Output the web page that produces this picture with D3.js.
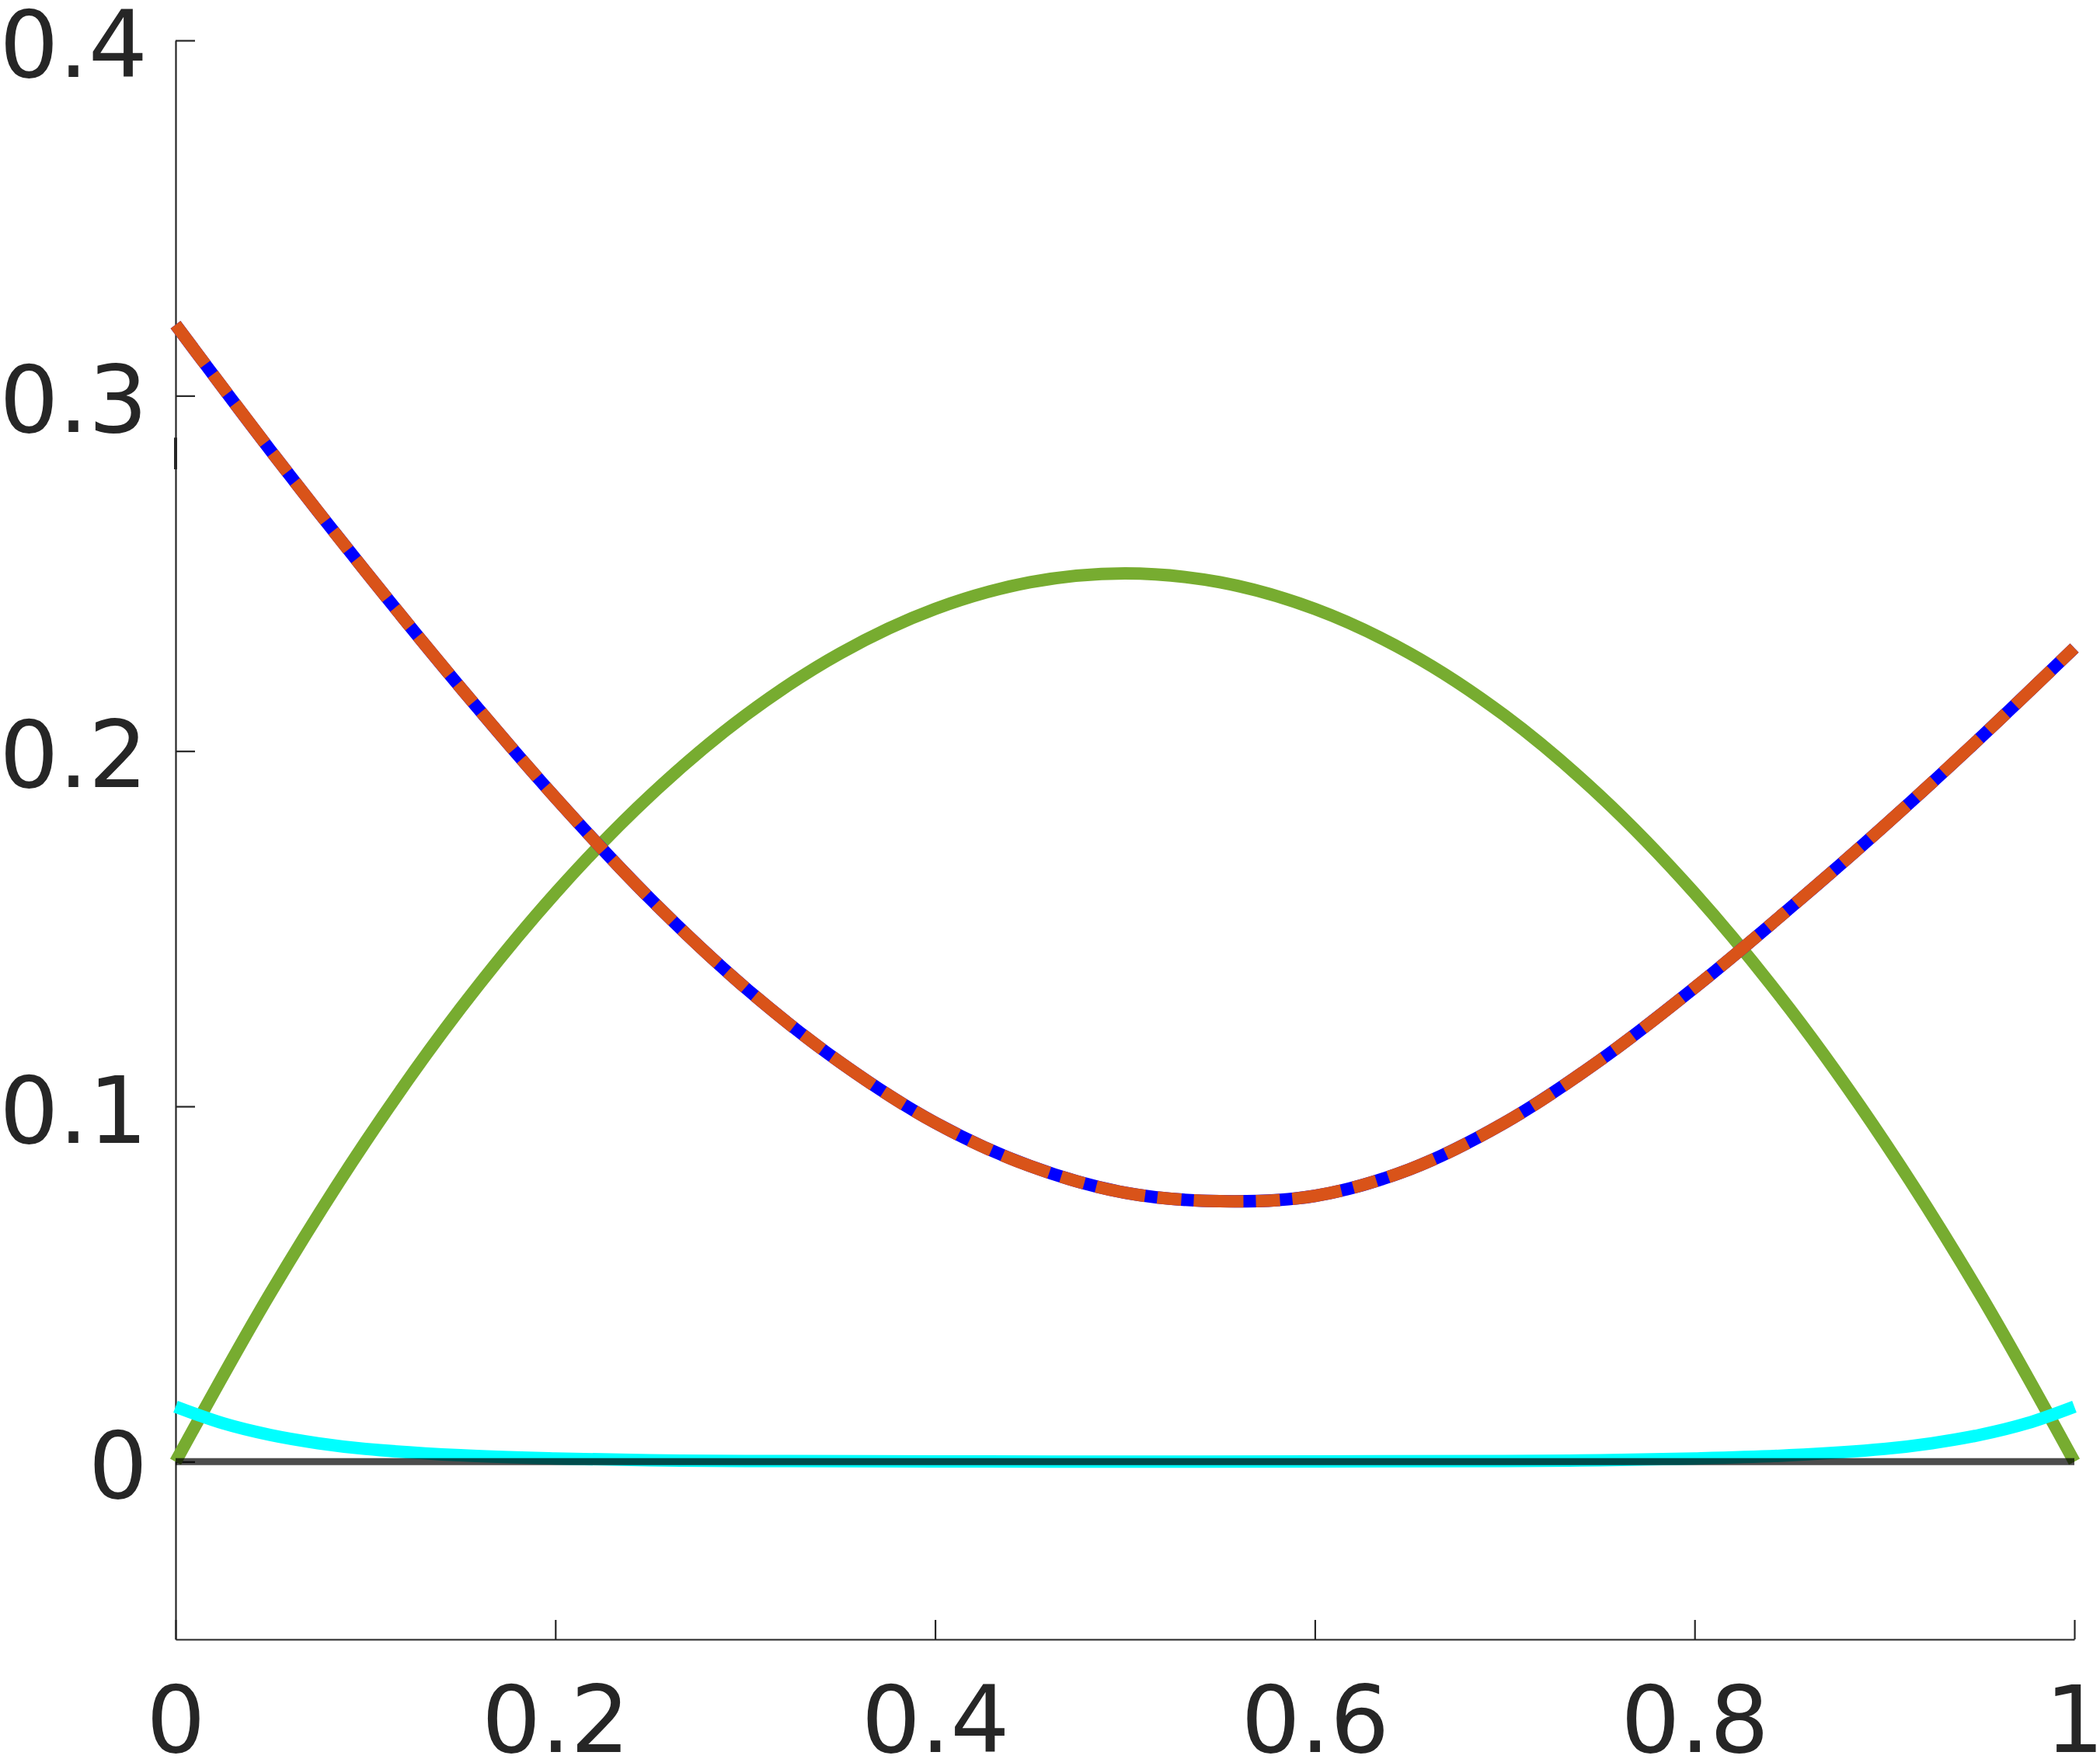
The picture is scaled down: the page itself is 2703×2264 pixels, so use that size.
<!DOCTYPE html>
<html>
<head>
<meta charset="utf-8">
<script src="https://cdn.jsdelivr.net/npm/d3@7"></script>
<style>
  html, body { margin: 0; padding: 0; background: #ffffff; }
  svg { display: block; }
</style>
</head>
<body>
<script>
// ---------- data ----------
const xs = [0, 0.05, 0.1, 0.15, 0.2, 0.25, 0.3, 0.35, 0.4, 0.45, 0.5,
            0.55, 0.6, 0.65, 0.7, 0.75, 0.8, 0.85, 0.9, 0.95, 1];

// green curve
const greenY = [0, 0.0475, 0.09, 0.1275, 0.16, 0.1875, 0.21, 0.2275, 0.24, 0.2475, 0.25,
                0.2475, 0.24, 0.2275, 0.21, 0.1875, 0.16, 0.1275, 0.09, 0.0475, 0];

// blue (solid) and orange (dash-dot) curves, coincident
const blueY = [0.320, 0.2846, 0.2506, 0.2179, 0.1869, 0.1584, 0.1334, 0.1124, 0.0954, 0.0832, 0.0757,
               0.0733, 0.0748, 0.0823, 0.0954, 0.1129, 0.1334, 0.1557, 0.179, 0.2035, 0.229];
const orangeY = [0.320, 0.2846, 0.2506, 0.2179, 0.1869, 0.1584, 0.1334, 0.1124, 0.0954, 0.0832, 0.0757,
                 0.0733, 0.0748, 0.0823, 0.0954, 0.1129, 0.1334, 0.1557, 0.179, 0.2035, 0.229];

// cyan curve (denser near the ends)
const cyanX = [0, 0.025, 0.05, 0.075, 0.1, 0.15, 0.2, 0.25, 0.3, 0.4, 0.5,
               0.6, 0.7, 0.75, 0.8, 0.85, 0.9, 0.925, 0.95, 0.975, 1];
const cyanY = [0.0155, 0.0108, 0.0075, 0.0052, 0.0036, 0.0018, 0.0009, 0.0004, 0.0002, 0.0001, 0.0,
               0.0001, 0.0002, 0.0004, 0.0009, 0.0018, 0.0036, 0.0052, 0.0075, 0.0108, 0.0155];

// zero reference line
const zeroX = [0, 1];
const zeroY = [0, 0];

// short thick mark on the y axis
const axisMarkY = [0.2793, 0.2882];

// ticks
const xTicks = [0, 0.2, 0.4, 0.6, 0.8, 1];
const xTickLabels = ["0", "0.2", "0.4", "0.6", "0.8", "1"];
const yTicks = [0, 0.1, 0.2, 0.3, 0.4];
const yTickLabels = ["0", "0.1", "0.2", "0.3", "0.4"];
const xDomain = [0, 1];
const yDomain = [-0.05, 0.4];

// ---------- drawing ----------
const W = 2703, H = 2264;
const svg = d3.select("body").append("svg").attr("width", W).attr("height", H);

const x = d3.scaleLinear().domain(xDomain).range([226, 2670]);
const y = d3.scaleLinear().domain(yDomain).range([2110, 52]);

const axisColor = "#262626";
const font = "'DejaVu Sans', sans-serif";

// axes
const yAxis = d3.axisLeft(y).tickValues(yTicks)
  .tickFormat((d, i) => yTickLabels[i]).tickSize(-25).tickSizeOuter(0).tickPadding(36);
const xAxis = d3.axisBottom(x).tickValues(xTicks)
  .tickFormat((d, i) => xTickLabels[i]).tickSize(-25).tickSizeOuter(0).tickPadding(60);

const gy = svg.append("g").attr("transform", `translate(${x(0)},0)`).call(yAxis);
const gx = svg.append("g").attr("transform", `translate(0,${y(yDomain[0])})`).call(xAxis);
[gx, gy].forEach(g => {
  g.select(".domain").attr("stroke", axisColor).attr("stroke-width", 2.2);
  g.selectAll(".tick line").attr("stroke", axisColor).attr("stroke-width", 2.2);
  g.selectAll(".tick text").attr("fill", axisColor)
    .style("font-family", font).style("font-size", "120px");
});
gy.selectAll(".tick text").attr("dy", "0.385em");

// small thick mark on the axis
svg.append("line")
  .attr("x1", x(0)).attr("x2", x(0))
  .attr("y1", y(axisMarkY[0])).attr("y2", y(axisMarkY[1]))
  .attr("stroke", axisColor).attr("stroke-width", 4);

function pts(xv, yv) { return xv.map((d, i) => [d, yv[i]]); }
const line = d3.line().x(d => x(d[0])).y(d => y(d[1])).curve(d3.curveCatmullRom.alpha(0.5));

const lw = 16;
svg.append("path").attr("d", line(pts(xs, greenY)))
  .attr("fill", "none").attr("stroke", "#77AC30").attr("stroke-width", lw);

svg.append("path").attr("d", line(pts(xs, blueY)))
  .attr("fill", "none").attr("stroke", "#0000FF").attr("stroke-width", lw);

svg.append("path").attr("d", line(pts(xs, orangeY)))
  .attr("fill", "none").attr("stroke", "#D95319").attr("stroke-width", lw)
  .attr("stroke-dasharray", "64,16,31,16");

svg.append("path").attr("d", line(pts(cyanX, cyanY)))
  .attr("fill", "none").attr("stroke", "#00FFFF").attr("stroke-width", lw);

svg.append("path").attr("d", d3.line().x(d => x(d[0])).y(d => y(d[1]))(pts(zeroX, zeroY)))
  .attr("fill", "none").attr("stroke", "#000000").attr("stroke-opacity", 0.7)
  .attr("stroke-width", 9);
</script>
</body>
</html>
